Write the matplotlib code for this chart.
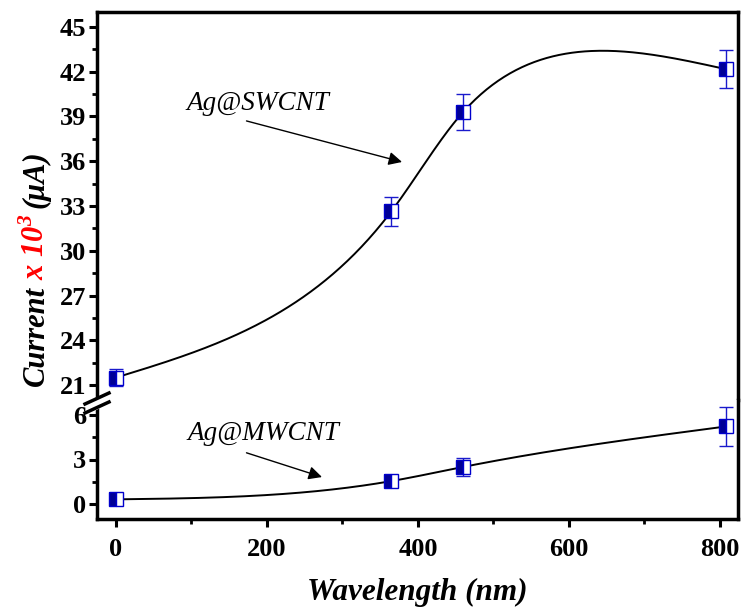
import numpy as np
import matplotlib
matplotlib.use("Agg")
import matplotlib.pyplot as plt
from matplotlib.lines import Line2D
from matplotlib.patches import Polygon

plt.rcParams['font.family'] = ['Liberation Serif', 'DejaVu Serif']
plt.rcParams['mathtext.fontset'] = 'custom'
plt.rcParams['mathtext.rm'] = 'Liberation Serif:bold:italic'
plt.rcParams['mathtext.it'] = 'Liberation Serif:bold:italic'
plt.rcParams['mathtext.bf'] = 'Liberation Serif:bold:italic'

# ---------------- data ----------------
wavelength = [0, 365, 460, 808]
sw_current = [21.5, 32.65, 39.3, 42.17]
sw_err = [0.57, 0.98, 1.18, 1.27]
mw_current = [0.32, 1.55, 2.5, 5.22]
mw_err = [0.2, 0.3, 0.6, 1.32]
xticks = [0, 200, 400, 600, 800]
upper_ticks = [21, 24, 27, 30, 33, 36, 39, 42, 45]
lower_ticks = [0, 3, 6]


def natural_spline(t, y):
    t = np.asarray(t, float); y = np.asarray(y, float)
    n = len(t); h = np.diff(t)
    A = np.zeros((n, n)); b = np.zeros(n)
    A[0, 0] = 1; A[-1, -1] = 1
    for i in range(1, n - 1):
        A[i, i - 1] = h[i - 1]; A[i, i] = 2 * (h[i - 1] + h[i]); A[i, i + 1] = h[i]
        b[i] = 3 * ((y[i + 1] - y[i]) / h[i] - (y[i] - y[i - 1]) / h[i - 1])
    c = np.linalg.solve(A, b)

    def f(ts):
        out = np.empty(len(ts))
        for k, tv in enumerate(ts):
            i = min(max(np.searchsorted(t, tv) - 1, 0), n - 2)
            dx = tv - t[i]
            bi = (y[i + 1] - y[i]) / h[i] - h[i] * (2 * c[i] + c[i + 1]) / 3
            di = (c[i + 1] - c[i]) / (3 * h[i])
            out[k] = y[i] + bi * dx + c[i] * dx ** 2 + di * dx ** 3
        return out
    return f


def smooth_curve(x, y, xscale=0.755, yscale=7.4, n=400):
    """parametric (chord-length) natural cubic spline through the data"""
    X = np.asarray(x, float) * xscale
    Y = np.asarray(y, float) * yscale
    t = np.concatenate([[0], np.cumsum(np.hypot(np.diff(X), np.diff(Y)))])
    ts = np.linspace(0, t[-1], n)
    return natural_spline(t, x)(ts), natural_spline(t, y)(ts)


W, H = 742, 609
fig = plt.figure(figsize=(W / 100, H / 100), dpi=100)

left, right, top, bottom, brk = 97, 738, 12, 519, 400
ax_up = fig.add_axes([left / W, 1 - brk / H, (right - left) / W, (brk - top) / H])
ax_lo = fig.add_axes([left / W, 1 - bottom / H, (right - left) / W, (bottom - brk) / H])

fill_c = '#000096'
edge_c = '#0000CC'
err_c = '#1a1acc'

for ax, yv, ye in [(ax_up, sw_current, sw_err), (ax_lo, mw_current, mw_err)]:
    cx, cy = smooth_curve(wavelength, yv)
    ax.plot(cx, cy, color='black', lw=1.4, zorder=2)
    ax.errorbar(wavelength, yv, yerr=ye, fmt='none', ecolor=err_c, elinewidth=1.0,
                capsize=5, capthick=1.0, zorder=3)
    ax.plot(wavelength, yv, ls='none', marker='s', markersize=10, fillstyle='left',
            markerfacecolor=fill_c, markerfacecoloralt='white',
            markeredgecolor=edge_c, markeredgewidth=1.0, zorder=4)
    ax.set_xlim(-25, 824)
    for s in ax.spines.values():
        s.set_linewidth(2.5)
    ax.tick_params(axis='both', which='major', direction='out', length=6, width=2.2,
                   labelsize=19, right=False, top=False)
    ax.tick_params(axis='both', which='minor', direction='out', length=3.5, width=2.0,
                   right=False, top=False)
    ax.tick_params(axis='y', which='major', pad=2)

ax_up.set_ylim(20, 46)
ax_up.set_yticks(upper_ticks)
ax_up.set_yticks(np.array(upper_ticks[:-1]) + 1.5, minor=True)
ax_up.spines['bottom'].set_visible(False)
ax_up.tick_params(axis='x', which='both', bottom=False, labelbottom=False)

ax_lo.set_ylim(-1, 7)
ax_lo.set_yticks(lower_ticks)
ax_lo.set_yticks([1.5, 4.5], minor=True)
ax_lo.spines['top'].set_visible(False)
ax_lo.set_xticks(xticks)
ax_lo.set_xticks([100, 300, 500, 700], minor=True)
ax_lo.tick_params(axis='x', which='major', pad=8)

for ax in (ax_up, ax_lo):
    for lab in ax.get_yticklabels() + ax.get_xticklabels():
        lab.set_fontweight('bold')
        lab.set_fontsize(19)


# axis break marks (figure pixel coords)
def px(x, y):
    return (x / W, 1 - y / H)


gap = Polygon([px(86, 405), px(109, 394), px(109, 404), px(86, 415)], closed=True,
              transform=fig.transFigure, facecolor='white', edgecolor='none', zorder=10)
fig.add_artist(gap)
for yoff in (0, 9):
    (x0, y0), (x1, y1) = px(85, 404 + yoff), px(109, 393 + yoff)
    fig.add_artist(Line2D([x0, x1], [y0, y1], transform=fig.transFigure,
                          color='black', lw=2.5, zorder=11))

# annotations
ax_up.annotate('', xy=(379, 35.95), xytext=(173, 38.7),
               arrowprops=dict(arrowstyle='-|>', color='black', lw=1.0, mutation_scale=20,
                               shrinkA=0, shrinkB=0))
ax_up.text(188, 39.85, 'Ag@SWCNT', fontsize=19.5, style='italic', ha='center', va='center')
ax_lo.annotate('', xy=(273, 1.82), xytext=(173, 3.45),
               arrowprops=dict(arrowstyle='-|>', color='black', lw=1.0, mutation_scale=20,
                               shrinkA=0, shrinkB=0))
ax_lo.text(196, 4.75, 'Ag@MWCNT', fontsize=19.5, style='italic', ha='center', va='center')

# x label
fig.text(417 / W, 1 - 592 / H, 'Wavelength (nm)', fontsize=22.5, fontweight='bold',
         style='italic', ha='center', va='center')

# multicolour y label
fig.canvas.draw()
r = fig.canvas.get_renderer()
pieces = [('Current', 'black'), ('x 10$^3$', 'red'), ('(\u03bcA)', 'black')]
lab_fs = 22
x_base = 44  # pixel x of baseline
y_cur = 386  # pixel y of start (bottom)
space = 6
for txt, col in pieces:
    t = fig.text(x_base / W, 1 - y_cur / H, txt, fontsize=lab_fs, fontweight='bold',
                 style='italic', color=col, rotation=90, rotation_mode='anchor',
                 ha='left', va='baseline')
    ext = t.get_window_extent(renderer=r)
    y_cur -= ext.height + space

fig.savefig('out.png', dpi=100)
